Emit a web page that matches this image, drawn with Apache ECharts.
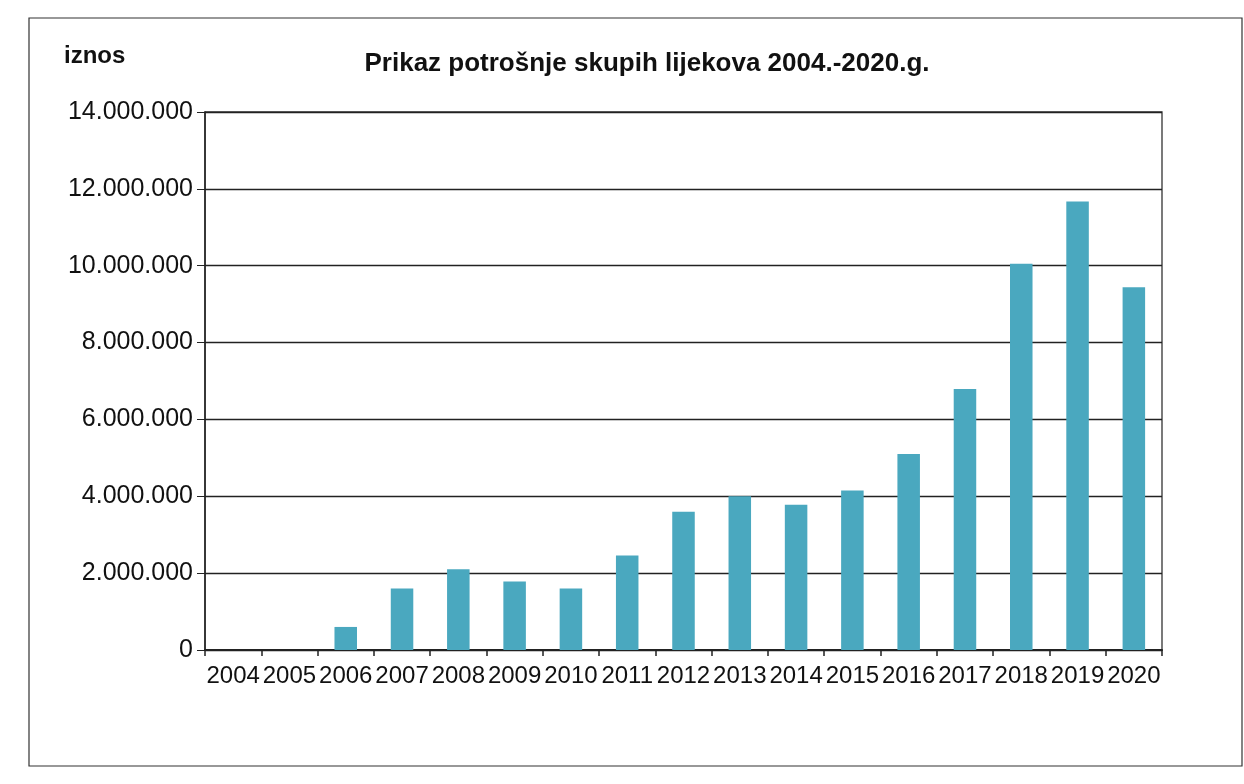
<!DOCTYPE html>
<html>
<head>
<meta charset="utf-8">
<script src="https://cdn.jsdelivr.net/npm/echarts@6/dist/echarts.min.js"></script>
<style>
html,body{margin:0;padding:0;background:#fff;}
#c{width:1244px;height:784px;}
</style>
</head>
<body>
<div id="c"></div>
<script>
const years = ['2004','2005','2006','2007','2008','2009','2010','2011','2012','2013','2014','2015','2016','2017','2018','2019','2020'];
const amounts = [0, 0, 600000, 1600000, 2100000, 1780000, 1600000, 2460000, 3600000, 4000000, 3780000, 4150000, 5100000, 6790000, 10050000, 11670000, 9440000];
const titleText = 'Prikaz potrošnje skupih lijekova 2004.-2020.g.';
const yAxisName = 'iznos';

function fmt(v){
  return String(Math.round(v)).replace(/\B(?=(\d{3})+(?!\d))/g, '.');
}

const chart = echarts.init(document.getElementById('c'));
chart.setOption({
  backgroundColor: '#fff',
  animation: false,
  title: {
    text: titleText,
    left: 642, top: 46, textAlign: 'center',
    textStyle: {fontFamily: 'Liberation Sans, Arial', fontWeight: 'bold', fontSize: 26, color: '#111'}
  },
  graphic: [
    {type: 'rect', shape: {x: 29, y: 18, width: 1213, height: 748}, style: {fill: 'none', stroke: '#333', lineWidth: 1.2}},
    {type: 'text', left: 64, top: 44, style: {text: yAxisName, font: 'bold 24px "Liberation Sans", Arial', fill: '#111'}}
  ],
  grid: {left: 205, right: 82, top: 112, bottom: 134, show: true, borderColor: '#333', borderWidth: 1.3},
  xAxis: {
    type: 'category', data: years,
    axisLine: {lineStyle: {color: '#222', width: 2}},
    axisTick: {show: true, length: 6, lineStyle: {color: '#222', width: 1.5}},
    axisLabel: {fontFamily: 'Liberation Sans, Arial', fontSize: 24, color: '#111', margin: 14, interval: 0}
  },
  yAxis: {
    type: 'value', min: 0, max: 14000000, interval: 2000000,
    axisLine: {show: true, lineStyle: {color: '#222', width: 1.5}},
    axisTick: {show: true, length: 8, lineStyle: {color: '#222'}},
    axisLabel: {fontFamily: 'Liberation Sans, Arial', fontSize: 25, color: '#111', margin: 12, formatter: fmt},
    splitLine: {lineStyle: {color: '#222', width: 1.3}}
  },
  series: [{
    type: 'bar', data: amounts, barWidth: '40%',
    itemStyle: {color: '#4aa8bf'}
  }]
});
</script>
</body>
</html>
